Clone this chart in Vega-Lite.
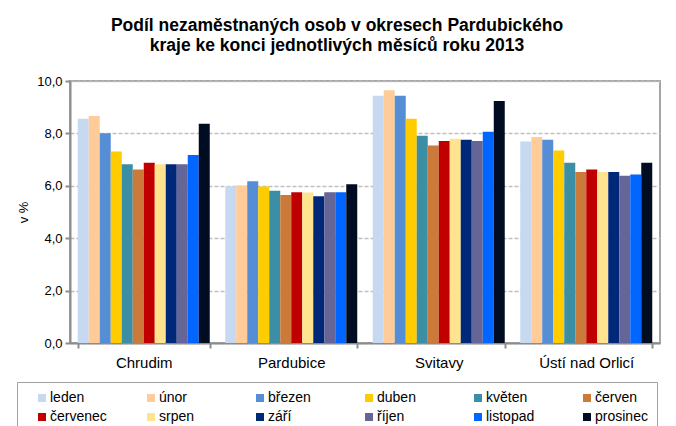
{
  "$schema": "https://vega.github.io/schema/vega-lite/v6.json",
  "width": 590,
  "height": 262,
  "autosize": "none",
  "padding": {"left": 70, "top": 81, "right": 16, "bottom": 83},
  "background": "white",
  "title": {
    "text": ["Podíl nezaměstnaných osob v okresech Pardubického", "kraje ke konci jednotlivých měsíců roku 2013"],
    "font": "Liberation Sans",
    "fontSize": 17.5,
    "fontWeight": "bold",
    "color": "black",
    "anchor": "middle",
    "frame": "group",
    "dx": -28,
    "offset": 21,
    "lineHeight": 20
  },
  "data": {
    "values": [
      {"okres": "Chrudim", "mesic": "leden", "hodnota": 8.56},
      {"okres": "Chrudim", "mesic": "únor", "hodnota": 8.66},
      {"okres": "Chrudim", "mesic": "březen", "hodnota": 8.01},
      {"okres": "Chrudim", "mesic": "duben", "hodnota": 7.31},
      {"okres": "Chrudim", "mesic": "květen", "hodnota": 6.82},
      {"okres": "Chrudim", "mesic": "červen", "hodnota": 6.62},
      {"okres": "Chrudim", "mesic": "červenec", "hodnota": 6.88},
      {"okres": "Chrudim", "mesic": "srpen", "hodnota": 6.82},
      {"okres": "Chrudim", "mesic": "září", "hodnota": 6.82},
      {"okres": "Chrudim", "mesic": "říjen", "hodnota": 6.82},
      {"okres": "Chrudim", "mesic": "listopad", "hodnota": 7.18},
      {"okres": "Chrudim", "mesic": "prosinec", "hodnota": 8.37},
      {"okres": "Pardubice", "mesic": "leden", "hodnota": 5.98},
      {"okres": "Pardubice", "mesic": "únor", "hodnota": 6.01},
      {"okres": "Pardubice", "mesic": "březen", "hodnota": 6.17},
      {"okres": "Pardubice", "mesic": "duben", "hodnota": 5.97},
      {"okres": "Pardubice", "mesic": "květen", "hodnota": 5.81},
      {"okres": "Pardubice", "mesic": "červen", "hodnota": 5.65},
      {"okres": "Pardubice", "mesic": "červenec", "hodnota": 5.75},
      {"okres": "Pardubice", "mesic": "srpen", "hodnota": 5.74},
      {"okres": "Pardubice", "mesic": "září", "hodnota": 5.6},
      {"okres": "Pardubice", "mesic": "říjen", "hodnota": 5.75},
      {"okres": "Pardubice", "mesic": "listopad", "hodnota": 5.75},
      {"okres": "Pardubice", "mesic": "prosinec", "hodnota": 6.06},
      {"okres": "Svitavy", "mesic": "leden", "hodnota": 9.44},
      {"okres": "Svitavy", "mesic": "únor", "hodnota": 9.65},
      {"okres": "Svitavy", "mesic": "březen", "hodnota": 9.44},
      {"okres": "Svitavy", "mesic": "duben", "hodnota": 8.56},
      {"okres": "Svitavy", "mesic": "květen", "hodnota": 7.91},
      {"okres": "Svitavy", "mesic": "červen", "hodnota": 7.54},
      {"okres": "Svitavy", "mesic": "červenec", "hodnota": 7.71},
      {"okres": "Svitavy", "mesic": "srpen", "hodnota": 7.8},
      {"okres": "Svitavy", "mesic": "září", "hodnota": 7.76},
      {"okres": "Svitavy", "mesic": "říjen", "hodnota": 7.71},
      {"okres": "Svitavy", "mesic": "listopad", "hodnota": 8.06},
      {"okres": "Svitavy", "mesic": "prosinec", "hodnota": 9.24},
      {"okres": "Ústí nad Orlicí", "mesic": "leden", "hodnota": 7.69},
      {"okres": "Ústí nad Orlicí", "mesic": "únor", "hodnota": 7.86},
      {"okres": "Ústí nad Orlicí", "mesic": "březen", "hodnota": 7.76},
      {"okres": "Ústí nad Orlicí", "mesic": "duben", "hodnota": 7.35},
      {"okres": "Ústí nad Orlicí", "mesic": "květen", "hodnota": 6.88},
      {"okres": "Ústí nad Orlicí", "mesic": "červen", "hodnota": 6.53},
      {"okres": "Ústí nad Orlicí", "mesic": "červenec", "hodnota": 6.62},
      {"okres": "Ústí nad Orlicí", "mesic": "srpen", "hodnota": 6.53},
      {"okres": "Ústí nad Orlicí", "mesic": "září", "hodnota": 6.53},
      {"okres": "Ústí nad Orlicí", "mesic": "říjen", "hodnota": 6.38},
      {"okres": "Ústí nad Orlicí", "mesic": "listopad", "hodnota": 6.43},
      {"okres": "Ústí nad Orlicí", "mesic": "prosinec", "hodnota": 6.88}
    ]
  },
  "mark": {"type": "bar"},
  "encoding": {
    "x": {
      "field": "okres",
      "type": "nominal",
      "sort": ["Chrudim", "Pardubice", "Svitavy", "Ústí nad Orlicí"],
      "scale": {"paddingInner": 0.105, "paddingOuter": 0.0525},
      "axis": {
        "title": null,
        "labelAngle": 0,
        "tickBand": "extent",
        "labelFont": "Liberation Sans",
        "labelFontSize": 15,
        "labelColor": "black",
        "labelPadding": 7,
        "domainColor": "#8C8C8C",
        "domainWidth": 2,
        "tickColor": "#8C8C8C",
        "tickWidth": 2,
        "tickSize": 5
      }
    },
    "xOffset": {
      "field": "mesic",
      "type": "nominal",
      "sort": ["leden", "únor", "březen", "duben", "květen", "červen", "červenec", "srpen", "září", "říjen", "listopad", "prosinec"],
      "scale": {"paddingInner": 0, "paddingOuter": 0}
    },
    "y": {
      "field": "hodnota",
      "type": "quantitative",
      "scale": {"domain": [0, 10], "nice": false},
      "axis": {
        "title": "v %",
        "titleFont": "Liberation Sans",
        "titleFontSize": 13,
        "titleFontWeight": "normal",
        "titleColor": "black",
        "titlePadding": 6,
        "values": [0, 2, 4, 6, 8, 10],
        "labelExpr": "replace(format(datum.value, '.1f'), '.', ',')",
        "labelFont": "Liberation Sans",
        "labelFontSize": 13,
        "labelColor": "black",
        "labelPadding": 3,
        "domainColor": "#8C8C8C",
        "domainWidth": 2,
        "tickColor": "#8C8C8C",
        "tickWidth": 2,
        "tickSize": 5,
        "grid": true,
        "gridColor": "#BFBFBF",
        "gridDash": [4, 2],
        "gridWidth": 1.5
      }
    },
    "color": {
      "field": "mesic",
      "type": "nominal",
      "scale": {
        "domain": ["leden", "únor", "březen", "duben", "květen", "červen", "červenec", "srpen", "září", "říjen", "listopad", "prosinec"],
        "range": ["#C6D9F1", "#FFCC99", "#558ED5", "#FFCC00", "#3B8EA4", "#CC7A3A", "#C00000", "#FFE38F", "#002878", "#656598", "#0066FF", "#000C22"]
      },
      "legend": {
        "title": null,
        "orient": "none",
        "legendX": -53,
        "legendY": 301,
        "direction": "horizontal",
        "columns": 6,
        "gridAlign": "all",
        "symbolType": "square",
        "symbolSize": 64,
        "symbolStrokeWidth": 0,
        "labelFont": "Liberation Sans",
        "labelFontSize": 14,
        "labelColor": "black",
        "labelOffset": 1,
        "columnPadding": 28,
        "rowPadding": 5,
        "padding": 9,
        "symbolOffset": 9,
        "strokeColor": "#A0A0A0",
        "labelLimit": 200
      }
    }
  },
  "config": {
    "view": {"stroke": "#A6A6A6", "strokeWidth": 2}
  }
}
